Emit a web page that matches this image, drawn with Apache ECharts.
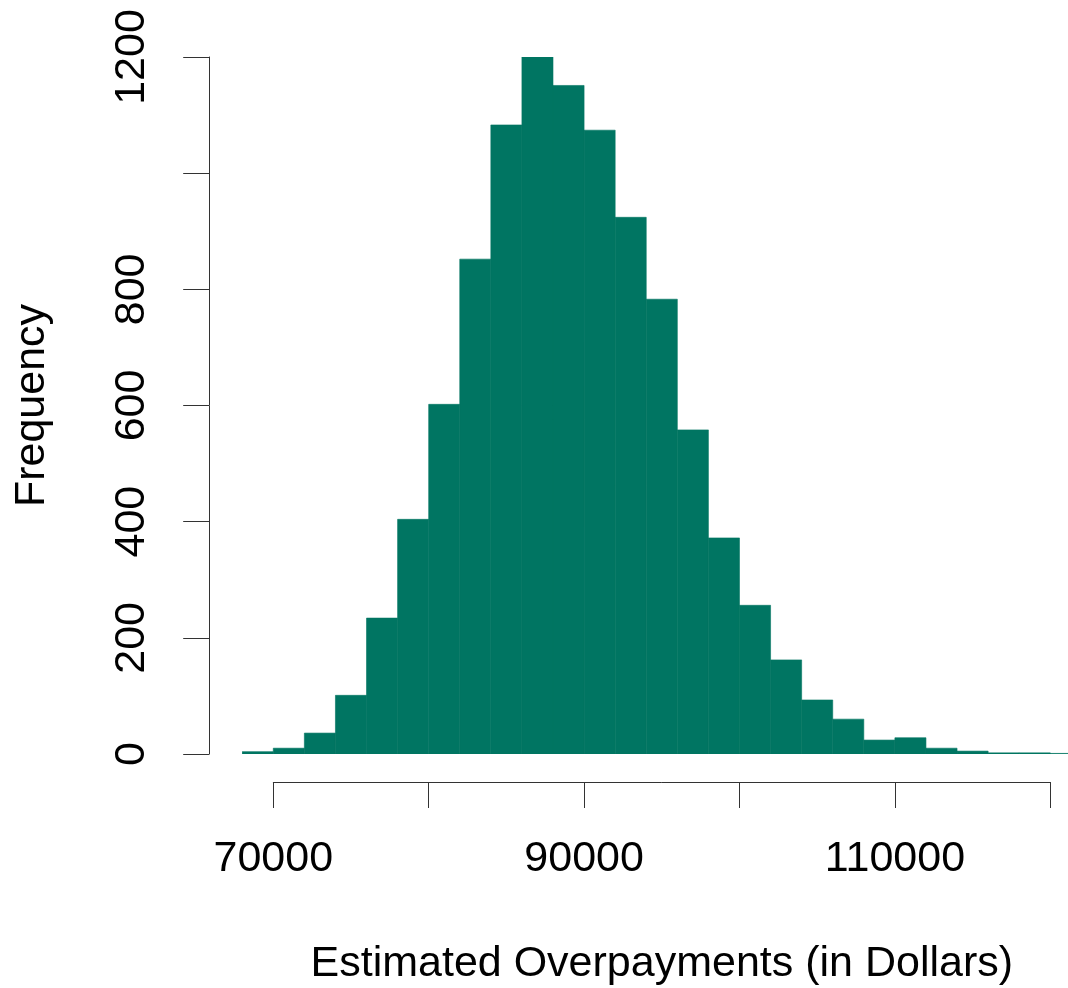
<!DOCTYPE html>
<html lang="en">
<head>
  <meta charset="UTF-8">
  <title>Estimated Overpayments</title>
  <style>
    html, body { margin: 0; padding: 0; background: #fff; }
    #main { width: 1068px; height: 988px; }
  </style>
</head>
<body>
  <div id="main"></div>
  <script src="https://cdn.jsdelivr.net/npm/echarts@6/dist/echarts.min.js"></script>
  <script>
    var myChart = echarts.init(document.getElementById('main'))

    // histogram bins (width 2000)
    var binStarts = [68000, 70000, 72000, 74000, 76000, 78000, 80000, 82000, 84000,
                     86000, 88000, 90000, 92000, 94000, 96000, 98000, 100000, 102000,
                     104000, 106000, 108000, 110000, 112000, 114000, 116000, 118000, 120000]
    var counts = [4, 10, 36, 101, 234, 404, 602, 852, 1083,
                  1200, 1151, 1074, 924, 783, 558, 372, 256, 162,
                  93, 60, 24, 28, 10, 5, 2, 2, 1]
    var binWidth = 2000
    var xLabels = [70000, 90000, 110000]
    var yLabels = [0, 200, 400, 600, 800, 1200]

    var histData = []
    for (var i = 0; i < binStarts.length; i++) {
      histData.push([binStarts[i], binStarts[i] + binWidth, counts[i]])
    }

    var font = 'Liberation Sans, Arial, sans-serif'
    var barColor = '#007562'

    var options = {
      animation: false,
      grid: [
        // right edge of the picture cuts the last bin (ends near 121140)
        { left: 242.2, right: 0, top: 57, bottom: 234 },
        // grid only used for the detached x axis
        { left: 273.3, right: 17.7, top: 700, bottom: 206 }
      ],
      xAxis: [
        {
          gridIndex: 0, type: 'value', min: 68000, max: 121140,
          show: false
        },
        {
          gridIndex: 1, type: 'value', min: 70000, max: 120000, interval: 10000,
          axisLine: { show: true, lineStyle: { color: '#333', width: 1 } },
          axisTick: { show: true, length: 26, lineStyle: { color: '#333' } },
          splitLine: { show: false },
          axisLabel: {
            color: '#000', fontSize: 43, fontFamily: font, margin: 56,
            formatter: function (v) { return xLabels.indexOf(v) >= 0 ? String(v) : '' }
          },
          name: 'Estimated Overpayments (in Dollars)',
          nameLocation: 'middle',
          nameGap: 161,
          nameTextStyle: { color: '#000', fontSize: 43, fontFamily: font }
        }
      ],
      yAxis: [
        {
          gridIndex: 0, type: 'value', min: 0, max: 1200, interval: 200,
          offset: 33,
          axisLine: { show: true, lineStyle: { color: '#333', width: 1 } },
          axisTick: { show: true, length: 26, lineStyle: { color: '#333' } },
          splitLine: { show: false },
          axisLabel: {
            color: '#000', fontSize: 43, fontFamily: font, rotate: 90, margin: 56,
            formatter: function (v) { return yLabels.indexOf(v) >= 0 ? String(v) : '' }
          },
          name: 'Frequency',
          nameLocation: 'middle',
          nameRotate: 90,
          nameGap: 156,
          nameTextStyle: { color: '#000', fontSize: 43, fontFamily: font }
        },
        { gridIndex: 1, type: 'value', show: false }
      ],
      series: [
        {
          type: 'custom',
          xAxisIndex: 0,
          yAxisIndex: 0,
          clip: true,
          data: histData,
          encode: { x: [0, 1], y: 2 },
          renderItem: function (params, api) {
            var p0 = api.coord([api.value(0), 0])
            var p1 = api.coord([api.value(1), api.value(2)])
            return {
              type: 'rect',
              shape: { x: p0[0], y: p1[1], width: p1[0] - p0[0], height: p0[1] - p1[1] },
              style: { fill: barColor, stroke: barColor, lineWidth: 0.6 }
            }
          }
        }
      ]
    }

    myChart.setOption(options)
  </script>
</body>
</html>
